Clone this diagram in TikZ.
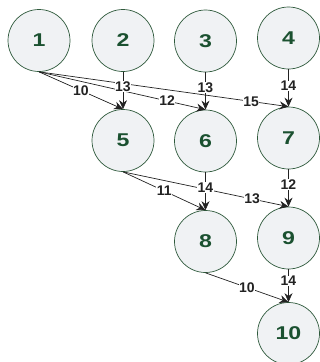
\documentclass[tikz,border=0pt]{standalone}
\usepackage{fontspec}
\setmainfont{Liberation Sans}
\newfontfamily\vertfont[FakeStretch=1.25]{Liberation Sans}
\usetikzlibrary{arrows.meta}
\definecolor{nodefill}{HTML}{F0F2F4}
\definecolor{nodeline}{HTML}{2F5A3C}
\definecolor{nodetext}{HTML}{1B5130}
\definecolor{edgecol}{HTML}{222222}
\begin{document}
\begin{tikzpicture}[x=1pt,y=-1pt,
  vert/.style={circle,draw=nodeline,fill=nodefill,line width=0.7pt,minimum size=62pt,inner sep=0pt,
    font=\vertfont\fontsize{18.5}{18.5}\selectfont\bfseries,text=nodetext},
  edge/.style={draw=edgecol,line width=0.7pt,-{Stealth[length=9pt,width=8pt]}},
  lbl/.style={fill=white,inner sep=0.4pt,font=\fontsize{14}{14}\selectfont\bfseries,text=edgecol}]
\useasboundingbox (0,0) rectangle (320,362);
\node[vert] (n1) at (39,40.5) {1};
\node[vert] (n2) at (123,40.5) {2};
\node[vert] (n3) at (205.5,41) {3};
\node[vert] (n4) at (288.5,38) {4};
\node[vert] (n5) at (123,140.5) {5};
\node[vert] (n6) at (205.5,141) {6};
\node[vert] (n7) at (288.5,138) {7};
\node[vert] (n8) at (205.5,241.5) {8};
\node[vert] (n9) at (288.5,238) {9};
\node[vert] (n10) at (288.5,333.5) {10};
\draw[edge] (n1.south) -- node[lbl,pos=0.5]{10} (n5.north);
\draw[edge] (n1.south) -- node[lbl,pos=0.77]{12} (n6.north);
\draw[edge] (n1.south) -- node[lbl,pos=0.85]{15} (n7.north);
\draw[edge] (n2.south) -- node[lbl,pos=0.4]{13} (n5.north);
\draw[edge] (n3.south) -- node[lbl,pos=0.4]{13} (n6.north);
\draw[edge] (n4.south) -- node[lbl,pos=0.45]{14} (n7.north);
\draw[edge] (n5.south) -- node[lbl,pos=0.5]{11} (n8.north);
\draw[edge] (n5.south) -- node[lbl,pos=0.78]{13} (n9.north);
\draw[edge] (n6.south) -- node[lbl,pos=0.4]{14} (n8.north);
\draw[edge] (n7.south) -- node[lbl,pos=0.4]{12} (n9.north);
\draw[edge] (n8.south) -- node[lbl,pos=0.5]{10} (n10.north);
\draw[edge] (n9.south) -- node[lbl,pos=0.35]{14} (n10.north);
\end{tikzpicture}
\end{document}
